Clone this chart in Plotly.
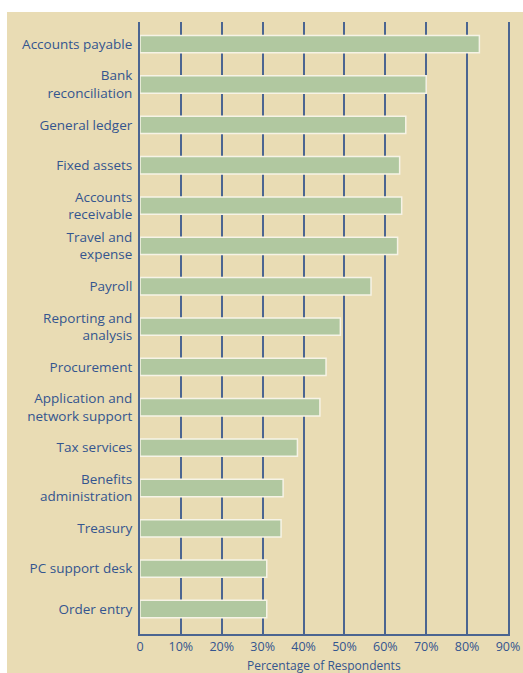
import plotly.graph_objects as go

categories = ["Accounts payable", "Bank<br>reconciliation", "General ledger", "Fixed assets",
              "Accounts<br>receivable", "Travel and<br>expense", "Payroll", "Reporting and<br>analysis",
              "Procurement", "Application and<br>network support", "Tax services", "Benefits<br>administration",
              "Treasury", "PC support desk", "Order entry"]
values = [83, 70, 65, 63.5, 64, 63, 56.5, 49, 45.5, 44, 38.5, 35, 34.5, 31, 31]
tick_vals = [0, 10, 20, 30, 40, 50, 60, 70, 80, 90]
tick_text = ["0", "10%", "20%", "30%", "40%", "50%", "60%", "70%", "80%", "90%"]
axis_title = "Percentage of Respondents"

W, H = 523, 673
ML, MR, MT, MB = 140, 15, 22, 39
pw, ph = W - ML - MR, H - MT - MB

BEIGE = "#e9dcb4"
LINE = "#4b6591"
TXT = "#34558f"
FONT = "Open Sans"

fig = go.Figure(go.Bar(
    x=values, y=list(range(len(categories))), orientation="h",
    width=0.43,
    marker=dict(color="#b1c8a0", line=dict(color="#f6f3e6", width=1.5)),
))

def px_x(p):
    return (p - ML) / pw

def px_y(p):
    return 1 - (p - MT) / ph

fig.update_layout(
    width=W, height=H,
    margin=dict(l=ML, r=MR, t=MT, b=MB),
    paper_bgcolor=BEIGE, plot_bgcolor=BEIGE,
    showlegend=False,
    font=dict(family=FONT, color=TXT, size=12),
    xaxis=dict(range=[0, 90], tickvals=tick_vals, ticktext=tick_text, automargin=False,
               showgrid=True, gridcolor=LINE, gridwidth=1.8,
               showline=True, linecolor=LINE, linewidth=2, zeroline=False,
               ticks="", ticklen=0, ticklabelstandoff=0,
               tickfont=dict(size=12.5, color=TXT, family=FONT, weight=500)),
    yaxis=dict(range=[14.62, -0.55], tickvals=list(range(len(categories))), ticktext=categories,
               automargin=False,
               showgrid=False, showline=True, mirror=True, linecolor=LINE, linewidth=2,
               zeroline=False, ticks="", ticklen=0, ticklabelstandoff=3,
               tickfont=dict(size=13.5, color=TXT, family=FONT, weight=500)),
    annotations=[dict(text=axis_title, xref="paper", yref="paper", x=0.5, y=px_y(665),
                      xanchor="center", yanchor="middle", showarrow=False,
                      font=dict(size=12, color=TXT, family=FONT, weight=500))],
    shapes=[
        dict(type="rect", xref="paper", yref="paper", layer="below",
             x0=px_x(0), x1=px_x(W), y0=px_y(0), y1=px_y(12),
             fillcolor="white", line=dict(width=0)),
        dict(type="rect", xref="paper", yref="paper", layer="below",
             x0=px_x(0), x1=px_x(7), y0=px_y(0), y1=px_y(H),
             fillcolor="white", line=dict(width=0)),
    ],
)

fig.write_html("out.html")
